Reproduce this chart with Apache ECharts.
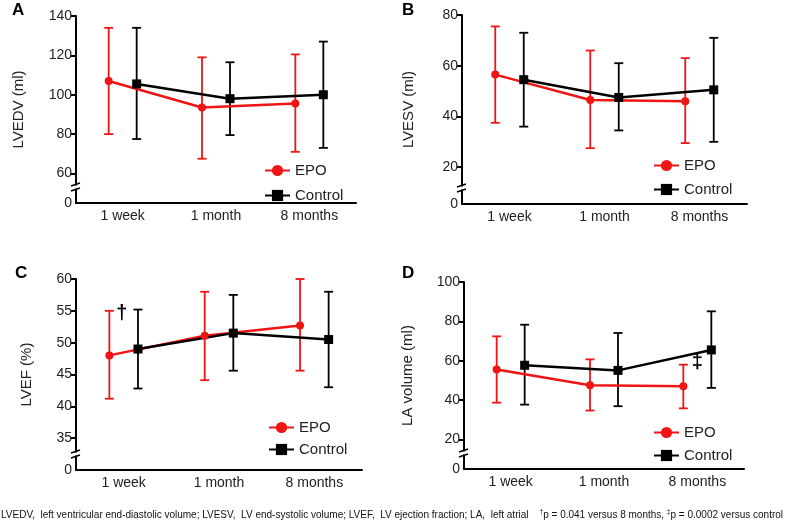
<!DOCTYPE html>
<html>
<head>
<meta charset="utf-8">
<script src="https://cdn.jsdelivr.net/npm/echarts@6/dist/echarts.min.js"></script>
<style>
  html, body { margin: 0; padding: 0; background: #fff; }
  #chart { width: 786px; height: 527px; }
</style>
</head>
<body>
<div id="chart"></div>
<script>
// ---------------- data ----------------
const categories = ['1 week', '1 month', '8 months'];
const seriesNames = ['EPO', 'Control'];

// Panel A: LVEDV (ml)
const lvedvEpoMean  = [107, 93.5, 95.5];
const lvedvEpoLow   = [80, 67.5, 71];
const lvedvEpoHigh  = [134, 119, 120.5];
const lvedvCtrlMean = [105.5, 98, 100];
const lvedvCtrlLow  = [77.5, 79.5, 73];
const lvedvCtrlHigh = [134, 116.5, 127];
const lvedvTicks = [60, 80, 100, 120, 140];

// Panel B: LVESV (ml)
const lvesvEpoMean  = [56.5, 46.5, 46];
const lvesvEpoLow   = [37.5, 27.5, 29.5];
const lvesvEpoHigh  = [75.5, 66, 63];
const lvesvCtrlMean = [54.5, 47.5, 50.5];
const lvesvCtrlLow  = [36, 34.5, 30];
const lvesvCtrlHigh = [73, 61, 71];
const lvesvTicks = [20, 40, 60, 80];

// Panel C: LVEF (%)
const lvefEpoMean  = [48, 51.1, 52.7];
const lvefEpoLow   = [41.2, 44.1, 45.6];
const lvefEpoHigh  = [55, 58, 60];
const lvefCtrlMean = [49, 51.5, 50.5];
const lvefCtrlLow  = [42.8, 45.6, 43];
const lvefCtrlHigh = [55.2, 57.5, 58];
const lvefTicks = [35, 40, 45, 50, 55, 60];

// Panel D: LA volume (ml)
const laEpoMean  = [55.5, 47.5, 47];
const laEpoLow   = [38.7, 34.7, 35.8];
const laEpoHigh  = [72.4, 60.7, 58];
const laCtrlMean = [57.7, 55.1, 65.5];
const laCtrlLow  = [37.7, 36.9, 46.2];
const laCtrlHigh = [78.3, 74.1, 85.1];
const laTicks = [20, 40, 60, 80, 100];

// significance marks: [category position, value, symbol]
const lvefMark = [-0.02, 54.6, '\u2020'];
const laMark = [2, 59, '\u2021'];

const footnote = 'LVEDV,  left ventricular end-diastolic volume; LVESV,  LV end-systolic volume; LVEF,  LV ejection fraction; LA,  left atrial';

// ---------------- layout / style ----------------
const W = 786, H = 527;
const FONT = 'Liberation Sans, Arial, Helvetica, sans-serif';
const RED = '#f01414', BLACK = '#000000', TXT = '#222222';
const OFF = 0.15; // horizontal dodge of the two groups (category units)

const panels = [
  { letter: 'A', name: 'LVEDV (ml)', floor: 45, ticks: lvedvTicks,
    grid: { left: 76, top: 16, right: W - 356, bottom: H - 203 }, nameGap: 50,
    letterPos: [12, 2], legendPos: [259, 158], legendGap: 10,
    epo: [lvedvEpoMean, lvedvEpoLow, lvedvEpoHigh], ctrl: [lvedvCtrlMean, lvedvCtrlLow, lvedvCtrlHigh], mark: null },
  { letter: 'B', name: 'LVESV (ml)', floor: 5.5, ticks: lvesvTicks,
    grid: { left: 462, top: 15, right: W - 747, bottom: H - 204 }, nameGap: 46,
    letterPos: [402, 2], legendPos: [648, 153], legendGap: 9,
    epo: [lvesvEpoMean, lvesvEpoLow, lvesvEpoHigh], ctrl: [lvesvCtrlMean, lvesvCtrlLow, lvesvCtrlHigh], mark: null },
  { letter: 'C', name: 'LVEF (%)', floor: 30, ticks: lvefTicks,
    grid: { left: 76, top: 279, right: W - 362, bottom: H - 470 }, nameGap: 42,
    letterPos: [15, 265], legendPos: [263, 415], legendGap: 7,
    epo: [lvefEpoMean, lvefEpoLow, lvefEpoHigh], ctrl: [lvefCtrlMean, lvefCtrlLow, lvefCtrlHigh], mark: lvefMark },
  { letter: 'D', name: 'LA volume (ml)', floor: 5, ticks: laTicks,
    grid: { left: 464, top: 282, right: W - 744, bottom: H - 469 }, nameGap: 49,
    letterPos: [402, 265], legendPos: [648, 420], legendGap: 8,
    epo: [laEpoMean, laEpoLow, laEpoHigh], ctrl: [laCtrlMean, laCtrlLow, laCtrlHigh], mark: laMark }
];

function errRender(params, api) {
  const x = api.value(0), lo = api.value(1), hi = api.value(2);
  const a = api.coord([x, lo]), b = api.coord([x, hi]);
  const hw = 4.5;
  const style = { stroke: api.visual('color'), lineWidth: 1.8 };
  return { type: 'group', children: [
    { type: 'line', shape: { x1: a[0], y1: a[1], x2: b[0], y2: b[1] }, style },
    { type: 'line', shape: { x1: a[0] - hw, y1: a[1], x2: a[0] + hw, y2: a[1] }, style },
    { type: 'line', shape: { x1: b[0] - hw, y1: b[1], x2: b[0] + hw, y2: b[1] }, style }
  ]};
}

const grid = [], xAxis = [], yAxis = [], series = [], legend = [], graphic = [];

panels.forEach((p, k) => {
  grid.push(Object.assign({ containLabel: false, outerBoundsMode: 'none' }, p.grid));
  xAxis.push({
    gridIndex: k, type: 'value', min: -0.5, max: 2.5,
    axisLine: { show: true, onZero: false, lineStyle: { color: BLACK, width: 2 } },
    axisTick: { show: false }, splitLine: { show: false },
    axisLabel: { customValues: [0, 1, 2], formatter: v => categories[Math.round(v)],
      fontSize: 14, color: TXT, fontFamily: FONT, margin: 6 }
  });
  const labelVals = [p.floor].concat(p.ticks);
  yAxis.push({
    gridIndex: k, type: 'value', min: p.floor, max: p.ticks[p.ticks.length - 1],
    axisLine: { show: true, onZero: false, lineStyle: { color: BLACK, width: 2 } },
    axisTick: { show: true, customValues: p.ticks, length: 5, lineStyle: { color: BLACK, width: 2 } },
    splitLine: { show: false },
    axisLabel: { customValues: labelVals, formatter: v => (v === p.floor ? '0' : String(v)),
      fontSize: 14, color: TXT, fontFamily: FONT, margin: 4 },
    name: p.name, nameLocation: 'middle', nameGap: p.nameGap,
    nameTextStyle: { fontSize: 15, color: TXT, fontFamily: FONT }
  });

  const groups = [[p.epo, -OFF, RED, 'circle', 8, 'EPO'], [p.ctrl, OFF, BLACK, 'rect', 9, 'Control']];
  groups.forEach(([arr, off, col, sym, sz, nm]) => {
    series.push({
      type: 'custom', name: nm + ' SD', xAxisIndex: k, yAxisIndex: k, z: 2,
      renderItem: errRender, itemStyle: { color: col },
      encode: { x: 0, y: [1, 2] },
      data: arr[0].map((m, i) => [i + off, arr[1][i], arr[2][i]]),
      silent: true
    });
    series.push({
      type: 'line', name: nm, xAxisIndex: k, yAxisIndex: k, z: 3,
      symbol: sym, symbolSize: sz, showSymbol: true,
      itemStyle: { color: col }, lineStyle: { color: col, width: 2.5 },
      data: arr[0].map((m, i) => [i + off, m]),
      animation: false
    });
  });

  if (p.mark) {
    series.push({
      type: 'custom', name: 'mark', xAxisIndex: k, yAxisIndex: k, z: 4, silent: true,
      encode: { x: 0, y: 1 },
      data: [[p.mark[0], p.mark[1]]],
      renderItem: (params, api) => {
        const pt = api.coord([api.value(0), api.value(1)]);
        return { type: 'text', x: pt[0], y: pt[1],
          style: { text: p.mark[2], fontSize: 20, fontWeight: 'bold', fontFamily: FONT, fill: BLACK, align: 'center', verticalAlign: 'middle' } };
      }
    });
  }

  legend.push({
    data: seriesNames, orient: 'vertical', left: p.legendPos[0], top: p.legendPos[1],
    itemWidth: 25, itemHeight: 14, itemGap: p.legendGap,
    textStyle: { fontSize: 15, color: TXT, fontFamily: FONT }, selectedMode: false
  });

  graphic.push({ type: 'text', left: p.letterPos[0], top: p.letterPos[1],
    style: { text: p.letter, font: 'bold 17px ' + FONT, fill: BLACK } });

  // axis break mark on the y axis, near its base
  const ax = p.grid.left, by = H - p.grid.bottom - 16;
  graphic.push({ type: 'rect', shape: { x: ax - 3, y: by - 1.5, width: 6, height: 3 }, style: { fill: '#fff' }, z: 100 });
  graphic.push({ type: 'line', shape: { x1: ax - 5, y1: by - 1, x2: ax + 4, y2: by - 4 }, style: { stroke: BLACK, lineWidth: 1.4 }, z: 101 });
  graphic.push({ type: 'line', shape: { x1: ax - 5, y1: by + 4, x2: ax + 4, y2: by + 1 }, style: { stroke: BLACK, lineWidth: 1.4 }, z: 101 });
});

graphic.push({
  type: 'text', left: 1, top: 509,
  style: {
    text: footnote + '    {s|\u2020}p = 0.041 versus 8 months, {s|\u2021}p = 0.0002 versus control',
    rich: { s: { fontSize: 6.5, padding: [0, 0, 5, 0], fontFamily: FONT } },
    font: '10px Liberation Sans Narrow, Arial Narrow, ' + FONT, fill: '#111'
  }
});

const chart = echarts.init(document.getElementById('chart'), null, { renderer: 'canvas' });
chart.setOption({
  animation: false,
  backgroundColor: '#fff',
  grid, xAxis, yAxis, series, legend, graphic
});
</script>
</body>
</html>
